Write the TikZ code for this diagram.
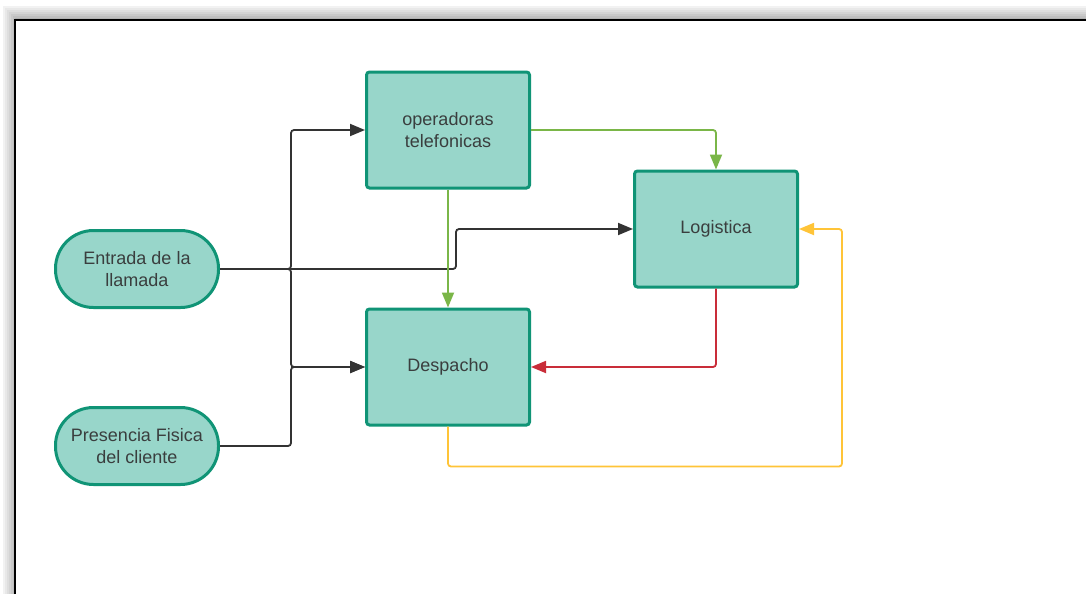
\documentclass[tikz,border=0pt]{standalone}
\usepackage{fontspec}
\setmainfont{Liberation Sans}
\usetikzlibrary{arrows.meta}

\definecolor{relleno}{RGB}{152,214,202}
\definecolor{borde}{RGB}{16,148,118}
\definecolor{texto}{RGB}{58,62,62}
\definecolor{linea}{RGB}{51,51,51}
\definecolor{verde}{RGB}{122,182,72}
\definecolor{rojo}{RGB}{201,45,57}
\definecolor{amarillo}{RGB}{255,196,56}

\begin{document}
\begin{tikzpicture} [x=1pt, y=-1pt,
                    caja/.style={rectangle,rounded corners=3pt,draw=borde,line width=3pt,fill=relleno,
                      text=texto,minimum width=163pt,minimum height=116pt,align=center,
                      font=\fontsize{18}{22}\selectfont},
                    pildora/.style={caja,rounded corners=38pt,minimum height=77pt},
                    flecha/.style={line width=1.8pt,rounded corners=3pt,-{Triangle[length=15pt,width=12pt]}}]

\useasboundingbox (0,0) rectangle (1086,594);

% marco con sombra
\foreach \d/\c in {0/5,2/9,4/13,6/17,8/21,10/25,12/30}
  \fill[black!\c] (3+\d,6+\d) rectangle (1086,594);
\fill[white] (15,20) rectangle (1086,594);
\draw[line width=2pt] (15,594) -- (15,20) -- (1086,20);

\node[caja] (ope) at (448,130) {operadoras\\telefonicas};
\node[caja] (log) at (716,229) {Logistica};
\node[caja] (des) at (448,367) {Despacho};
\node[pildora] (ent) at (137,269) {Entrada de la\\llamada};
\node[pildora] (pre) at (137,446) {Presencia Fisica\\del cliente};

 \draw[flecha, linea] (ent.east) -- ++(236,0) |- (log.west);
 \draw[flecha, linea] (ent.east) -- ++(71,0) |- (ope.west);
 \draw[flecha, linea] (ent.east) -- ++(71,0) |- (des.west);
 \draw[flecha, linea] (pre.east) -- ++(71,0) |- (des.west);

 \draw[flecha, verde] (ope.east) -| (log.north);
 \draw[flecha, verde] (ope.south) -- (des.north);
 \draw[flecha, rojo] (log.south) |- (des.east);
 \draw[flecha, amarillo] (des.south) -- ++(0,40) -| ([xshift=43pt]log.east) -- (log.east);
\end{tikzpicture}
\end{document}
